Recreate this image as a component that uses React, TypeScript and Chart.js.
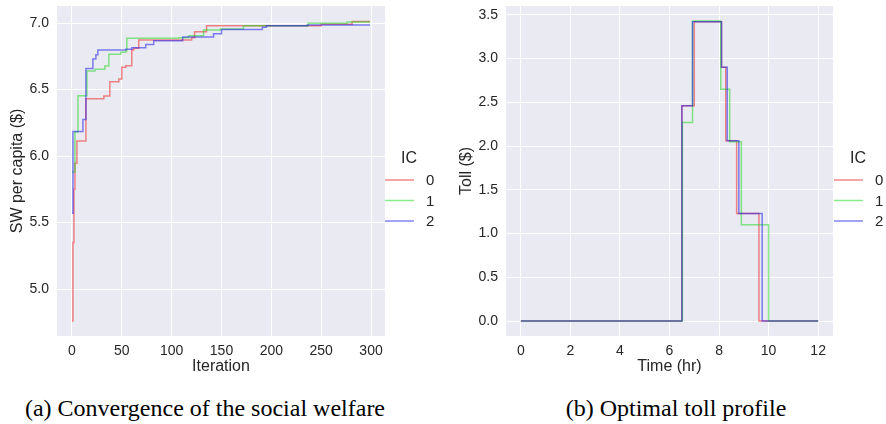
import React, { useEffect, useRef } from "react";
import { Chart, registerables } from "chart.js";
Chart.register(...registerables);

// ---------- (a) Convergence of the social welfare ----------
const iterRed = [0, 1, 2, 3, 5, 14, 32, 38, 47, 50, 54, 60, 62, 67, 120, 123, 135, 250, 281, 299];
const swRed = [4.76, 5.35, 5.75, 5.945, 6.113, 6.43, 6.451, 6.559, 6.579, 6.667, 6.679, 6.797, 6.81, 6.872, 6.89, 6.935, 6.98, 6.99, 7.012, 7.012];
const iterGreen = [0, 3, 6, 15, 23, 33, 37, 49, 54, 55, 107, 117, 132, 149, 172, 237, 276, 299];
const swGreen = [5.88, 6.18, 6.453, 6.64, 6.652, 6.677, 6.765, 6.78, 6.79, 6.885, 6.89, 6.905, 6.947, 6.955, 6.98, 6.998, 7.008, 7.008];
const iterBlue = [0, 1, 11, 14, 21, 24, 26, 54, 60, 74, 82, 111, 142, 150, 191, 195, 236, 299];
const swBlue = [5.57, 6.185, 6.275, 6.659, 6.73, 6.762, 6.797, 6.802, 6.815, 6.838, 6.866, 6.895, 6.92, 6.952, 6.968, 6.98, 6.985, 6.985];
const iterTicks = [0, 50, 100, 150, 200, 250, 300];
const swTicks = [5.0, 5.5, 6.0, 6.5, 7.0];

// ---------- (b) Optimal toll profile ----------
const timeRed = [0, 6.5, 7.0, 8.1, 8.27, 8.71, 9.61, 12];
const tollRed = [0, 2.46, 3.42, 2.9, 2.06, 1.23, 0, 0];
const timeGreen = [0, 6.52, 6.93, 8.07, 8.43, 8.9, 10.0, 12];
const tollGreen = [0, 2.27, 3.43, 2.65, 2.05, 1.1, 0, 0];
const timeBlue = [0, 6.5, 6.93, 8.1, 8.33, 8.8, 9.74, 12];
const tollBlue = [0, 2.46, 3.42, 2.9, 2.06, 1.23, 0, 0];
const timeTicks = [0, 2, 4, 6, 8, 10, 12];
const tollTicks = [0, 0.5, 1.0, 1.5, 2.0, 2.5, 3.0, 3.5];

const legendLabels = ["0", "1", "2"];
const legendTitle = "IC";
const COLORS = ["rgba(235,40,40,0.55)", "rgba(20,215,20,0.5)", "rgba(30,30,235,0.55)"];
const FONT = "'Liberation Sans', Arial, sans-serif";
const TICK_COLOR = "#262626";

const toPts = (xs: number[], ys: number[]) => xs.map((x, i) => ({ x, y: ys[i] }));

function makeLegendPlugin(cfg: { titleX: number; lineX0: number; lineX1: number; labelX: number }) {
  return {
    id: "customLegend",
    afterDraw(chart: any) {
      const ctx = chart.ctx;
      ctx.save();
      ctx.fillStyle = TICK_COLOR;
      ctx.font = `16px ${FONT}`;
      ctx.textAlign = "center";
      ctx.textBaseline = "middle";
      ctx.fillText(legendTitle, cfg.titleX, 159);
      const rows = [180, 200.5, 221];
      legendLabels.forEach((lab, i) => {
        ctx.strokeStyle = COLORS[i];
        ctx.lineWidth = 1.5;
        ctx.beginPath();
        ctx.moveTo(cfg.lineX0, rows[i]);
        ctx.lineTo(cfg.lineX1, rows[i]);
        ctx.stroke();
        ctx.fillStyle = TICK_COLOR;
        ctx.font = `15px ${FONT}`;
        ctx.textAlign = "left";
        ctx.fillText(lab, cfg.labelX, rows[i] + 1);
      });
      ctx.restore();
    },
  };
}

const bgPlugin = {
  id: "bg",
  beforeDraw(chart: any) {
    const { ctx, chartArea } = chart;
    ctx.save();
    ctx.fillStyle = "#EAEAF2";
    ctx.fillRect(chartArea.left, chartArea.top, chartArea.right - chartArea.left, chartArea.bottom - chartArea.top);
    ctx.restore();
  },
};

function buildConfig(opts: {
  series: { x: number[]; y: number[] }[];
  xMin: number; xMax: number; yMin: number; yMax: number;
  xTicks: number[]; yTicks: number[];
  xTitle: string; yTitle: string;
  yWidth: number; padRight: number; yTitlePad: number;
  xFmt: (v: number) => string; yFmt: (v: number) => string;
  legend: any;
}) {
  return {
    type: "line",
    data: {
      datasets: opts.series.map((s, i) => ({
        label: legendLabels[i],
        data: toPts(s.x, s.y),
        borderColor: COLORS[i],
        borderWidth: 1.5,
        pointRadius: 0,
        stepped: "before",
        fill: false,
        order: 3 - i,
      })),
    },
    options: {
      animation: false,
      responsive: false,
      maintainAspectRatio: false,
      layout: { padding: { top: 6, right: opts.padRight, left: 0, bottom: 0 } },
      plugins: { legend: { display: false }, tooltip: { enabled: false } },
      scales: {
        x: {
          type: "linear",
          min: opts.xMin,
          max: opts.xMax,
          afterBuildTicks: (s: any) => { s.ticks = opts.xTicks.map((v) => ({ value: v })); },
          afterFit: (s: any) => { s.height = 44; s.paddingLeft = 0; s.paddingRight = 0; },
          grid: { color: "#ffffff", lineWidth: 1, drawTicks: false },
          border: { display: false },
          ticks: { color: TICK_COLOR, font: { family: FONT, size: 14 }, padding: 7, maxRotation: 0, autoSkip: false, callback: (v: any) => opts.xFmt(Number(v)) },
          title: { display: true, text: opts.xTitle, color: TICK_COLOR, font: { family: FONT, size: 16 }, padding: { top: 0, bottom: 4 } },
        },
        y: {
          type: "linear",
          min: opts.yMin,
          max: opts.yMax,
          afterBuildTicks: (s: any) => { s.ticks = opts.yTicks.map((v) => ({ value: v })); },
          afterFit: (s: any) => { s.width = opts.yWidth; s.paddingTop = 0; s.paddingBottom = 0; },
          grid: { color: "#ffffff", lineWidth: 1, drawTicks: false },
          border: { display: false },
          ticks: { color: TICK_COLOR, font: { family: FONT, size: 14 }, padding: 8, autoSkip: false, callback: (v: any) => opts.yFmt(Number(v)) },
          title: { display: true, text: opts.yTitle, color: TICK_COLOR, font: { family: FONT, size: 16 }, padding: { top: opts.yTitlePad, bottom: 0 } },
        },
      },
    },
    plugins: [bgPlugin, opts.legend],
  };
}

export default function App() {
  const leftRef = useRef<HTMLCanvasElement>(null);
  const rightRef = useRef<HTMLCanvasElement>(null);

  useEffect(() => {
    const left = new Chart(leftRef.current as any, buildConfig({
      series: [
        { x: iterRed, y: swRed },
        { x: iterGreen, y: swGreen },
        { x: iterBlue, y: swBlue },
      ],
      xMin: -15, xMax: 314, yMin: 4.647, yMax: 7.128,
      xTicks: iterTicks, yTicks: swTicks,
      xTitle: "Iteration", yTitle: "SW per capita ($)",
      yWidth: 57, padRight: 58, yTitlePad: 8,
      xFmt: (v) => String(v), yFmt: (v) => v.toFixed(1),
      legend: makeLegendPlugin({ titleX: 409, lineX0: 385, lineX1: 414, labelX: 426 }),
    }) as any);
    const right = new Chart(rightRef.current as any, buildConfig({
      series: [
        { x: timeRed, y: tollRed },
        { x: timeGreen, y: tollGreen },
        { x: timeBlue, y: tollBlue },
      ],
      xMin: -0.6, xMax: 12.6, yMin: -0.171, yMax: 3.6,
      xTicks: timeTicks, yTicks: tollTicks,
      xTitle: "Time (hr)", yTitle: "Toll ($)",
      yWidth: 63, padRight: 53, yTitlePad: 14,
      xFmt: (v) => String(v), yFmt: (v) => v.toFixed(1),
      legend: makeLegendPlugin({ titleX: 858 - 443, lineX0: 834 - 443, lineX1: 863 - 443, labelX: 875 - 443 }),
    }) as any);
    return () => { left.destroy(); right.destroy(); };
  }, []);

  const captionStyle: React.CSSProperties = {
    position: "absolute",
    top: 394,
    fontFamily: "'Liberation Serif', 'DejaVu Serif', serif",
    fontSize: 24,
    color: "#000",
    whiteSpace: "nowrap",
    transform: "translateX(-50%)",
    lineHeight: "28px",
  };

  return (
    <div style={{ position: "fixed", left: 0, top: 0, width: 886, height: 424, background: "#fff", overflow: "hidden" }}>
      <canvas ref={leftRef} width={443} height={380} style={{ position: "absolute", left: 0, top: 0, width: 443, height: 380 }} />
      <canvas ref={rightRef} width={443} height={380} style={{ position: "absolute", left: 443, top: 0, width: 443, height: 380 }} />
      <div style={{ ...captionStyle, left: 205 }}>(a) Convergence of the social welfare</div>
      <div style={{ ...captionStyle, left: 676 }}>(b) Optimal toll profile</div>
    </div>
  );
}
